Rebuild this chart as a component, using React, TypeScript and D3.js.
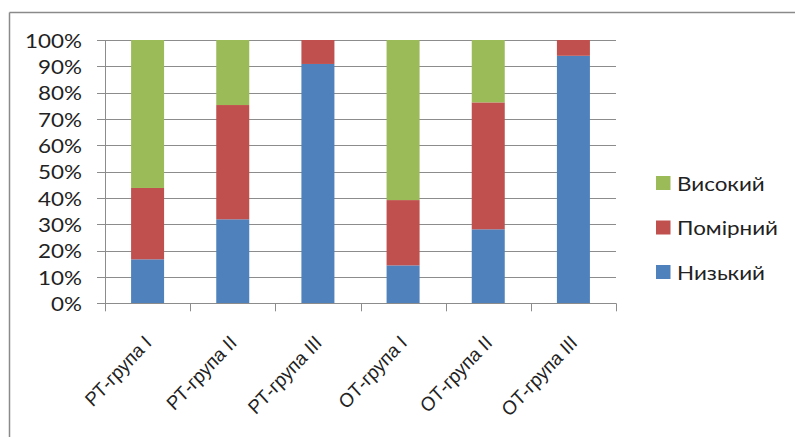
import React from "react";
import * as d3 from "d3";

const categories = ["РТ-група I", "РТ-група II", "РТ-група III", "ОТ-група I", "ОТ-група II", "ОТ-група III"];
const lowValues = [16.7, 31.9, 90.9, 14.4, 28.1, 94.0];
const midValues = [27.1, 43.4, 9.1, 24.8, 48.2, 6.0];
const highValues = [56.2, 24.7, 0, 60.8, 23.7, 0];
const seriesNames = ["Низький", "Помірний", "Високий"];
const seriesColors = ["#4F81BD", "#C0504D", "#9BBB59"];
const yTicks = [0, 10, 20, 30, 40, 50, 60, 70, 80, 90, 100];

const W = 795;
const H = 437;
const SX = 1.18;

export default function App() {
  const x0 = 105, x1 = 616, yTop = 40, yBot = 303.3;
  const x = d3.scaleBand<string>().domain(categories).range([x0, x1]).paddingInner(0).paddingOuter(0);
  const y = d3.scaleLinear().domain([0, 100]).range([yBot, yTop]);
  const barW = 33;

  const rows = categories.map((c, i) => ({ cat: c, low: lowValues[i], mid: midValues[i], high: highValues[i] }));
  const stack = d3.stack<any>().keys(["low", "mid", "high"]);
  const stacked = stack(rows);

  const grid = "#8c8c8c";
  const fontMain = "Lato, 'Noto Sans', sans-serif";

  return (
    <svg width={W} height={H} style={{ position: "absolute", left: 0, top: 0, background: "#fff" }}>
      {/* frame */}
      <line x1={9.5} y1={12.5} x2={W} y2={12.5} stroke="#8a8a8a" strokeWidth={1.5} />
      <line x1={9.5} y1={12.5} x2={9.5} y2={H} stroke="#8a8a8a" strokeWidth={1.5} />

      {/* gridlines + y ticks */}
      {yTicks.map((t) => (
        <g key={t}>
          <line x1={x0 - 8} x2={x1} y1={Math.round(y(t)) + 0.5} y2={Math.round(y(t)) + 0.5} stroke={grid} strokeWidth={1} />
          <text
            transform={`translate(82, ${y(t)}) scale(${SX},1)`}
            textAnchor="end"
            dominantBaseline="central"
            fontFamily={fontMain}
            fontSize={19}
            fill="#222"
          >
            {t}%
          </text>
        </g>
      ))}

      {/* bars */}
      {stacked.map((s, si) => (
        <g key={si} fill={seriesColors[si]}>
          {s.map((d: any, i: number) => {
            const cx = (x(categories[i]) as number) + x.bandwidth() / 2;
            const h = y(d[0]) - y(d[1]);
            if (h <= 0) return null;
            return <rect key={i} x={cx - barW / 2} y={y(d[1])} width={barW} height={h} />;
          })}
        </g>
      ))}

      {/* axes */}
      <line x1={x0 + 0.5} x2={x0 + 0.5} y1={yTop} y2={yBot} stroke={grid} />
      <line x1={x0} x2={x1} y1={Math.round(yBot) + 0.5} y2={Math.round(yBot) + 0.5} stroke={grid} />
      {categories.concat(["__end"]).map((c, i) => {
        const xx = x0 + i * x.step();
        return <line key={i} x1={Math.round(xx) + 0.5} x2={Math.round(xx) + 0.5} y1={yBot} y2={yBot + 8} stroke={grid} />;
      })}

      {/* category labels */}
      {categories.map((c) => {
        const cx = (x(c) as number) + x.bandwidth() / 2;
        return (
          <text
            key={c}
            transform={`translate(${cx + 5}, 344) scale(1.12,1) rotate(-50) skewX(-10)`}
            textAnchor="end"
            fontFamily="'Liberation Sans', Arial, sans-serif"
            fontSize={18}
            fill="#222"
          >
            {c}
          </text>
        );
      })}

      {/* legend */}
      {[2, 1, 0].map((si, k) => {
        const cy = 183 + k * 44.5;
        return (
          <g key={si}>
            <rect x={656} y={cy - 7} width={14.5} height={14} fill={seriesColors[si]} />
            <text
              transform={`translate(677, ${cy}) scale(${SX},1)`}
              dominantBaseline="central"
              fontFamily={fontMain}
              fontSize={19}
              fill="#222"
            >
              {seriesNames[si]}
            </text>
          </g>
        );
      })}
    </svg>
  );
}
